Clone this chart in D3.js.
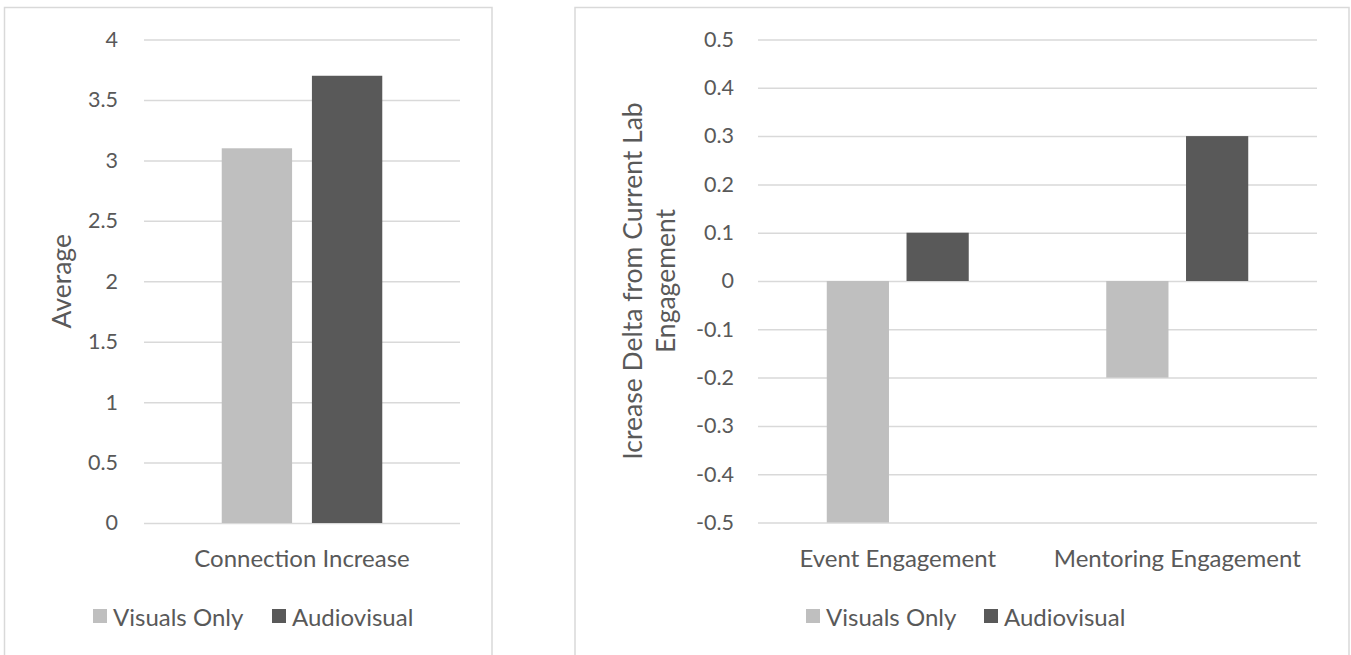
<!DOCTYPE html>
<html>
<head>
<meta charset="utf-8">
<script src="https://cdn.jsdelivr.net/npm/d3@7"></script>
<style>
  html, body { margin: 0; padding: 0; background: #ffffff; }
  svg { display: block; font-family: Lato, "Open Sans", sans-serif; }
</style>
</head>
<body>
<svg id="chart" width="1351" height="655"></svg>
<script>
// Series shared by both panels
const seriesNames = ["Visuals Only", "Audiovisual"];
const seriesColors = ["#bfbfbf", "#595959"];

// Left panel: average connection increase
const leftCategories = ["Connection Increase"];
const leftVisualsOnly = [3.1];
const leftAudiovisual = [3.7];
const leftTicks = [0, 0.5, 1, 1.5, 2, 2.5, 3, 3.5, 4];
const leftTitle = ["Average"];

// Right panel: change relative to current lab engagement
const rightCategories = ["Event Engagement", "Mentoring Engagement"];
const rightVisualsOnly = [-0.5, -0.2];
const rightAudiovisual = [0.1, 0.3];
const rightTicks = [-0.5, -0.4, -0.3, -0.2, -0.1, 0, 0.1, 0.2, 0.3, 0.4, 0.5];
const rightTitle = ["Icrease Delta from Current Lab", "Engagement"];

const TEXT = "#595959";
const GRID = "#d9d9d9";
const FONT_TICK = 21.5;
const FONT_LABEL = 24;
const FONT_TITLE = 26.5;

const svg = d3.select("#chart");

function drawPanel(opt) {
  const g = svg.append("g");

  // chart area frame
  g.append("rect")
    .attr("x", opt.frame[0]).attr("y", opt.frame[1])
    .attr("width", opt.frame[2]).attr("height", opt.frame[3])
    .attr("fill", "#fff").attr("stroke", GRID).attr("stroke-width", 1.5);

  const [x0, x1] = opt.plotX;
  const [yTop, yBottom] = opt.plotY;

  const y = d3.scaleLinear()
    .domain(d3.extent(opt.ticks))
    .range([yBottom, yTop]);

  const xCat = d3.scaleBand()
    .domain(opt.categories)
    .range([x0, x1])
    .paddingInner(0)
    .paddingOuter(0);

  // bars occupy the central part of each category band
  const groupFrac = 0.508;
  const xSeries = d3.scaleBand()
    .domain(seriesNames)
    .range([xCat.bandwidth() * (1 - groupFrac) / 2, xCat.bandwidth() * (1 + groupFrac) / 2])
    .paddingInner(0.22);

  // gridlines + value labels
  const yAxis = d3.axisLeft(y)
    .tickValues(opt.ticks)
    .tickFormat(d => String(d))
    .tickSize(-(x1 - x0))
    .tickPadding(opt.tickPad);
  const ya = g.append("g")
    .attr("transform", `translate(${x0},0)`)
    .call(yAxis);
  ya.select(".domain").remove();
  ya.selectAll(".tick line").attr("stroke", GRID).attr("stroke-width", 1.5);
  ya.selectAll(".tick text")
    .attr("fill", TEXT).style("font-size", FONT_TICK + "px")
    .style("font-family", "Lato, sans-serif");

  // bars
  const values = [opt.visuals, opt.audio];
  const rows = [];
  opt.categories.forEach((c, i) => {
    seriesNames.forEach((s, j) => rows.push({ cat: c, series: s, idx: j, value: values[j][i] }));
  });
  g.append("g").selectAll("rect")
    .data(rows)
    .join("rect")
    .attr("x", d => xCat(d.cat) + xSeries(d.series))
    .attr("width", xSeries.bandwidth())
    .attr("y", d => y(Math.max(0, d.value)))
    .attr("height", d => Math.abs(y(d.value) - y(0)))
    .attr("fill", d => seriesColors[d.idx]);

  // category labels
  const xAxis = d3.axisBottom(xCat).tickSize(0).tickPadding(opt.catPad);
  const xa = g.append("g")
    .attr("transform", `translate(0,${yBottom})`)
    .call(xAxis);
  xa.select(".domain").remove();
  xa.selectAll(".tick text")
    .attr("fill", TEXT).style("font-size", FONT_LABEL + "px")
    .style("font-family", "Lato, sans-serif");

  // axis title (rotated, one or two lines)
  const yMid = (yTop + yBottom) / 2;
  opt.title.forEach((line, i) => {
    g.append("text")
      .attr("transform", `translate(${opt.titleX[i]},${yMid}) rotate(-90)`)
      .attr("text-anchor", "middle")
      .attr("dominant-baseline", "central")
      .attr("fill", TEXT)
      .style("font-size", FONT_TITLE + "px")
      .text(line);
  });

  // legend
  const lg = g.append("g").attr("transform", `translate(0,${opt.legendY})`);
  seriesNames.forEach((name, j) => {
    lg.append("rect")
      .attr("x", opt.legendX[j]).attr("y", -7)
      .attr("width", 14).attr("height", 14)
      .attr("fill", seriesColors[j]);
    lg.append("text")
      .attr("x", opt.legendX[j] + 20).attr("y", 0)
      .attr("dominant-baseline", "central")
      .attr("fill", TEXT)
      .style("font-size", FONT_LABEL + "px")
      .text(name);
  });
}

drawPanel({
  frame: [4.5, 7.5, 487.5, 660],
  plotX: [144, 460],
  plotY: [39.5, 523],
  ticks: leftTicks,
  tickPad: 26,
  catPad: 27,
  categories: leftCategories,
  visuals: leftVisualsOnly,
  audio: leftAudiovisual,
  title: leftTitle,
  titleX: [61],
  legendX: [93, 272],
  legendY: 616
});

drawPanel({
  frame: [575, 7.5, 774, 660],
  plotX: [758, 1317],
  plotY: [39.5, 522.5],
  ticks: rightTicks,
  tickPad: 24,
  catPad: 27,
  categories: rightCategories,
  visuals: rightVisualsOnly,
  audio: rightAudiovisual,
  title: rightTitle,
  titleX: [632, 665],
  legendX: [806, 984],
  legendY: 616
});
</script>
</body>
</html>
